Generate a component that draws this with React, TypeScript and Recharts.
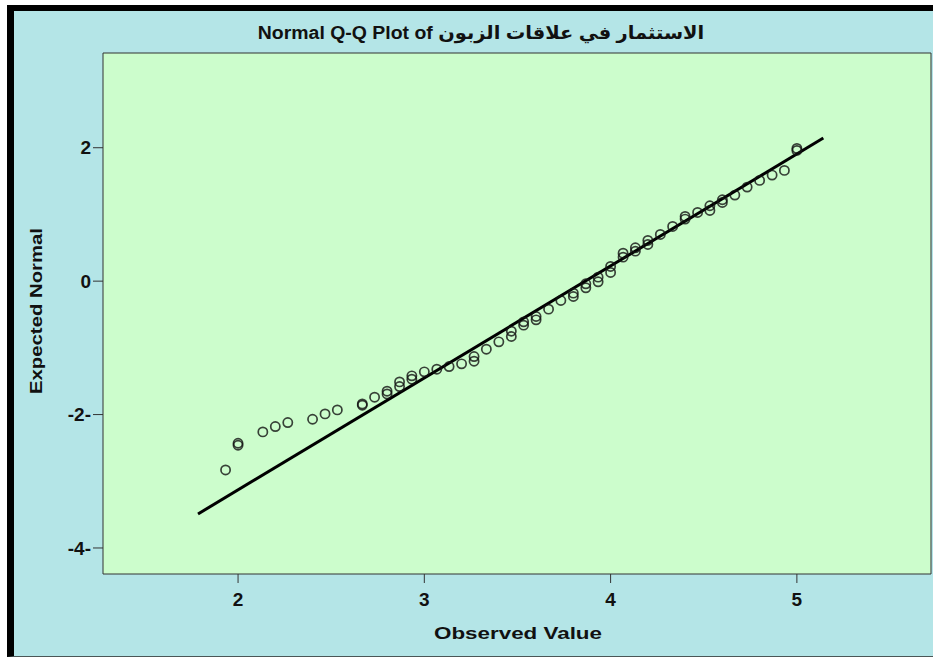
import { ScatterChart, Scatter, XAxis, YAxis, ReferenceArea, ReferenceLine } from "recharts";

const observed = [
  1.933, 2.0, 2.0, 2.133, 2.2, 2.267, 2.4, 2.467, 2.533, 2.667, 2.667, 2.733, 2.8, 2.8,
  2.867, 2.867, 2.933, 2.933, 3.0, 3.067, 3.133, 3.2, 3.267, 3.267, 3.333, 3.4, 3.467, 3.467,
  3.533, 3.533, 3.6, 3.6, 3.667, 3.733, 3.8, 3.8, 3.867, 3.867, 3.933, 3.933, 4.0, 4.0,
  4.067, 4.067, 4.133, 4.133, 4.2, 4.2, 4.267, 4.333, 4.4, 4.4, 4.467, 4.533, 4.533, 4.6,
  4.6, 4.667, 4.733, 4.8, 4.867, 4.933, 5.0, 5.0,
];
const expected = [
  -2.83, -2.43, -2.46, -2.26, -2.18, -2.12, -2.07, -1.99, -1.93, -1.84, -1.86, -1.74, -1.65, -1.69,
  -1.51, -1.58, -1.42, -1.47, -1.36, -1.32, -1.28, -1.24, -1.13, -1.2, -1.02, -0.91, -0.83, -0.75,
  -0.61, -0.66, -0.53, -0.58, -0.42, -0.29, -0.18, -0.23, -0.04, -0.1, 0.06, -0.01, 0.22, 0.13,
  0.42, 0.36, 0.5, 0.45, 0.61, 0.55, 0.7, 0.82, 0.97, 0.93, 1.03, 1.13, 1.06, 1.22,
  1.18, 1.29, 1.41, 1.51, 1.59, 1.66, 1.96, 1.99,
];

// reference line end points
const lineX = [1.785, 5.142];
const lineY = [-3.49, 2.145];

const xTicks = [2, 3, 4, 5];
const yTicks = [-4, -2, 0, 2];
const xDomain = [1.275, 5.72];
const yDomain = [-4.39, 3.42];

const FONT = '"Liberation Sans", Arial, "DejaVu Sans", sans-serif';
const CYAN = "#b4e5e7";
const GREEN = "#ccfdcc";
const DARK = "#333";

const points = observed.map((x, i) => ({ x, y: expected[i] }));

function Ring(props: any) {
  return (
    <circle cx={props.cx} cy={props.cy} r={4.6} fill="none" stroke="#111" strokeOpacity={0.8} strokeWidth={1.7} />
  );
}

function XTitle(props: any) {
  const vb = props.viewBox;
  return (
    <text
      x={vb.x + vb.width / 2 + 1}
      y={639}
      textAnchor="middle"
      fontFamily={FONT}
      fontWeight={700}
      fontSize={17}
      fill="#111"
      textLength={168}
      lengthAdjust="spacingAndGlyphs"
    >
      Observed Value
    </text>
  );
}

function YTitle() {
  return (
    <text
      x={0}
      y={0}
      transform="translate(42, 311) rotate(-90)"
      textAnchor="middle"
      fontFamily={FONT}
      fontWeight={700}
      fontSize={17}
      fill="#111"
      textLength={166}
      lengthAdjust="spacingAndGlyphs"
    >
      Expected Normal
    </text>
  );
}

export default function App() {
  return (
    <div style={{ position: "absolute", left: 0, top: 0, width: 933, height: 658, background: "#fff", overflow: "hidden" }}>
      {/* frame: black band left and top, thin dark line at the bottom */}
      <div style={{
        position: "absolute", left: 7, top: 5, width: 926, height: 652,
        boxSizing: "border-box",
        borderLeft: "7px solid #000", borderTop: "6px solid #000", borderBottom: "1px solid #4a5656",
        background: CYAN,
      }} />

      <div style={{
        position: "absolute", left: 481, top: 22, transform: "translateX(-50%) scaleX(1.08)",
        whiteSpace: "nowrap", fontFamily: FONT, fontSize: 18, lineHeight: "22px", color: "#111", direction: "ltr",
      }}>
        <span style={{ fontWeight: 700 }}>Normal Q-Q Plot of </span>
        <span style={{ fontWeight: 700 }}>الاستثمار في علاقات الزبون</span>
      </div>

      <div style={{ position: "absolute", left: 0, top: 0 }}>
        <ScatterChart width={933} height={658} margin={{ top: 53, right: 2, bottom: 0, left: 0 }}>
          <ReferenceArea
            x1={xDomain[0]} x2={xDomain[1]} y1={yDomain[0]} y2={yDomain[1]}
            fill={GREEN} fillOpacity={1} stroke={DARK} strokeWidth={1}
          />
          <XAxis
            type="number"
            dataKey="x"
            domain={xDomain}
            ticks={xTicks}
            allowDataOverflow
            height={84}
            axisLine={false}
            tickLine={{ stroke: DARK }}
            tickSize={9}
            tickMargin={10}
            tick={{ fill: "#111", fontSize: 19, fontWeight: 700, fontFamily: FONT }}
            label={<XTitle />}
          />
          <YAxis
            type="number"
            dataKey="y"
            domain={yDomain}
            ticks={yTicks}
            allowDataOverflow
            width={103}
            axisLine={false}
            tickLine={{ stroke: DARK }}
            tickSize={10}
            tickMargin={2}
            tickFormatter={(v: number) => (v < 0 ? `${v}-` : `${v}`)}
            tick={{ fill: "#111", fontSize: 19, fontWeight: 700, fontFamily: FONT }}
            label={<YTitle />}
          />
          <ReferenceLine
            segment={[{ x: lineX[0], y: lineY[0] }, { x: lineX[1], y: lineY[1] }]}
            stroke="#000"
            strokeWidth={3}
          />
          <Scatter data={points} shape={<Ring />} isAnimationActive={false} />
        </ScatterChart>
      </div>
    </div>
  );
}
